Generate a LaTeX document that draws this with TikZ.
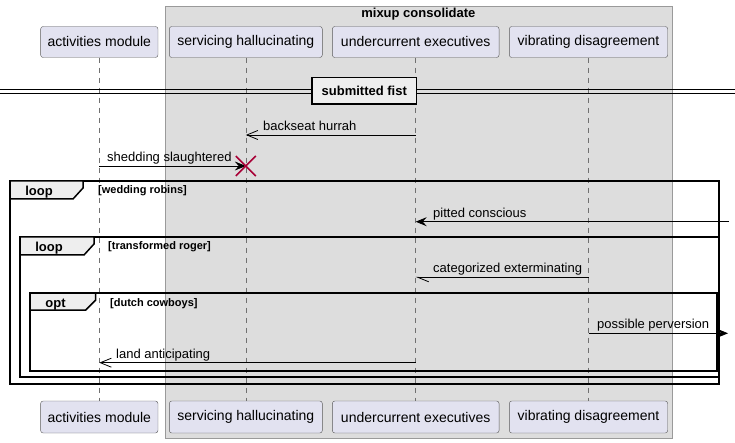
\documentclass[tikz,border=0pt]{standalone}
\usepackage{fontspec}
\setmainfont{Liberation Sans}
\usetikzlibrary{arrows.meta}
\definecolor{partfill}{HTML}{E2E2F0}
\definecolor{partline}{HTML}{5A5A5A}
\definecolor{boxfill}{HTML}{DDDDDD}
\definecolor{boxline}{HTML}{9A9A9A}
\definecolor{tabfill}{HTML}{EEEEEE}
\definecolor{lifeline}{HTML}{707070}
\definecolor{killred}{HTML}{A80036}
\begin{document}
\begin{tikzpicture}[x=1pt,y=-1pt,
    part/.style={draw=partline,fill=partfill,rounded corners=2.5pt,minimum height=31pt,inner sep=0pt,font=\fontsize{14}{16}\selectfont},
    life/.style={draw=lifeline,line width=0.6pt,dash pattern=on 5pt off 5pt},
    msg/.style={line width=0.8pt},
    openmsg/.style={msg,-{Straight Barb[length=11pt,width=9pt,line width=0.8pt]}},
    halfmsg/.style={msg,-{Straight Barb[left,length=11pt,width=9pt,line width=0.8pt]}},
    fullmsg/.style={msg,-{Stealth[length=11pt,width=9pt,inset=4pt]}},
    msglab/.style={font=\fontsize{13}{15}\selectfont,inner sep=0pt,anchor=base west},
    frame/.style={line width=1.5pt},
    grplab/.style={font=\bfseries\fontsize{13}{15}\selectfont,inner sep=0pt,anchor=base},
    cond/.style={font=\bfseries\fontsize{11}{13}\selectfont,inner sep=0pt,anchor=base west}]
    \useasboundingbox (0,0) rectangle (735,443);
    % box round the three participants
    \draw[draw=boxline,fill=boxfill] (165,6) rectangle (671.7,438);
    \node[grplab] (boxtitle) at (418.4,18) {mixup consolidate};
    % participants, top and bottom
    \node[part,minimum width=117.3pt] (pa) at (99.3,42) {activities module};
    \node[part,minimum width=153pt] (ps) at (245.8,42) {servicing hallucinating};
    \node[part,minimum width=166.7pt] (pu) at (415.7,42) {undercurrent executives};
    \node[part,minimum width=158.4pt] (pv) at (588.5,42) {vibrating disagreement};
    \node[part,minimum width=117.3pt,minimum height=32pt] (qa) at (99.3,417) {activities module};
    \node[part,minimum width=153pt,minimum height=32pt] (qs) at (245.8,417) {servicing hallucinating};
    \node[part,minimum width=166.7pt,minimum height=32pt] (qu) at (415.7,417) {undercurrent executives};
    \node[part,minimum width=158.4pt,minimum height=32pt] (qv) at (588.5,417) {vibrating disagreement};
    \draw[life] (pa) -- (qa);
    \draw[life] (ps) -- (qs);
    \draw[life] (pu) -- (qu);
    \draw[life] (pv) -- (qv);
    % divider
    \draw (0,89.5) -- (735,89.5);
    \draw (0,93) -- (735,93);
    \node[draw,line width=1.5pt,fill=tabfill,font=\bfseries\fontsize{13}{15}\selectfont,minimum width=104.7pt,minimum height=26.3pt,inner sep=0pt] (div) at (364.3,90.9) {submitted fist};
    % message heights
    \coordinate (k1) at (0,135);
    \coordinate (k2) at (0,166);
    \coordinate (k3) at (0,221.7);
    \coordinate (k4) at (0,277.3);
    \coordinate (k5) at (0,333.3);
    \coordinate (k6) at (0,362.7);
    \coordinate (rin) at (729,221.7);
    \coordinate (rout) at (728,333.3);
    \draw[openmsg] (pu |- k1) -- (ps |- k1);
    \node[msglab] (l1) at (263,131) {backseat hurrah};
    \draw[fullmsg] (pa |- k2) -- (ps |- k2);
    \node[msglab] (l2) at (107,162) {shedding slaughtered};
    \coordinate (kill) at (ps |- k2);
    \draw[killred,line width=1.5pt] (kill) ++(-10,-10) -- ++(20,20) (kill) ++(-10,10) -- ++(20,-20);
    % frames
    \draw[frame] (10,181) rectangle (719,384);
    \draw[frame,fill=tabfill] (10,181) -- (83,181) -- (83,188) -- (73,199) -- (10,199) -- cycle;
    \node[grplab] (g1) at (39,195.5) {loop};
    \node[cond] (c1) at (98,194) {[wedding robins]};
    \draw[fullmsg] (rin) -- (pu |- k3);
    \node[msglab] (l3) at (433,217.2) {pitted conscious};
    \draw[frame] (20,237) rectangle (719,377);
    \draw[frame,fill=tabfill] (20,237) -- (94,237) -- (94,244) -- (84,255) -- (20,255) -- cycle;
    \node[grplab] (g2) at (49,251.5) {loop};
    \node[cond] (c2) at (108,250) {[transformed roger]};
    \draw[halfmsg] (pv |- k4) -- (pu |- k4);
    \node[msglab] (l4) at (433,272.8) {categorized exterminating};
    \draw[frame] (30,293) rectangle (717,371);
    \draw[frame,fill=tabfill] (30,293) -- (95.7,293) -- (95.7,300) -- (85.7,310) -- (30,310) -- cycle;
    \node[grplab] (g3) at (55.5,307) {opt};
    \node[cond] (c3) at (110,306) {[dutch cowboys]};
    \draw[fullmsg] (pv |- k5) -- (rout);
    \node[msglab] (l5) at (597,328.8) {possible perversion};
    \draw[openmsg] (pu |- k6) -- (pa |- k6);
    \node[msglab] (l6) at (116,358.2) {land anticipating};
\end{tikzpicture}
\end{document}
